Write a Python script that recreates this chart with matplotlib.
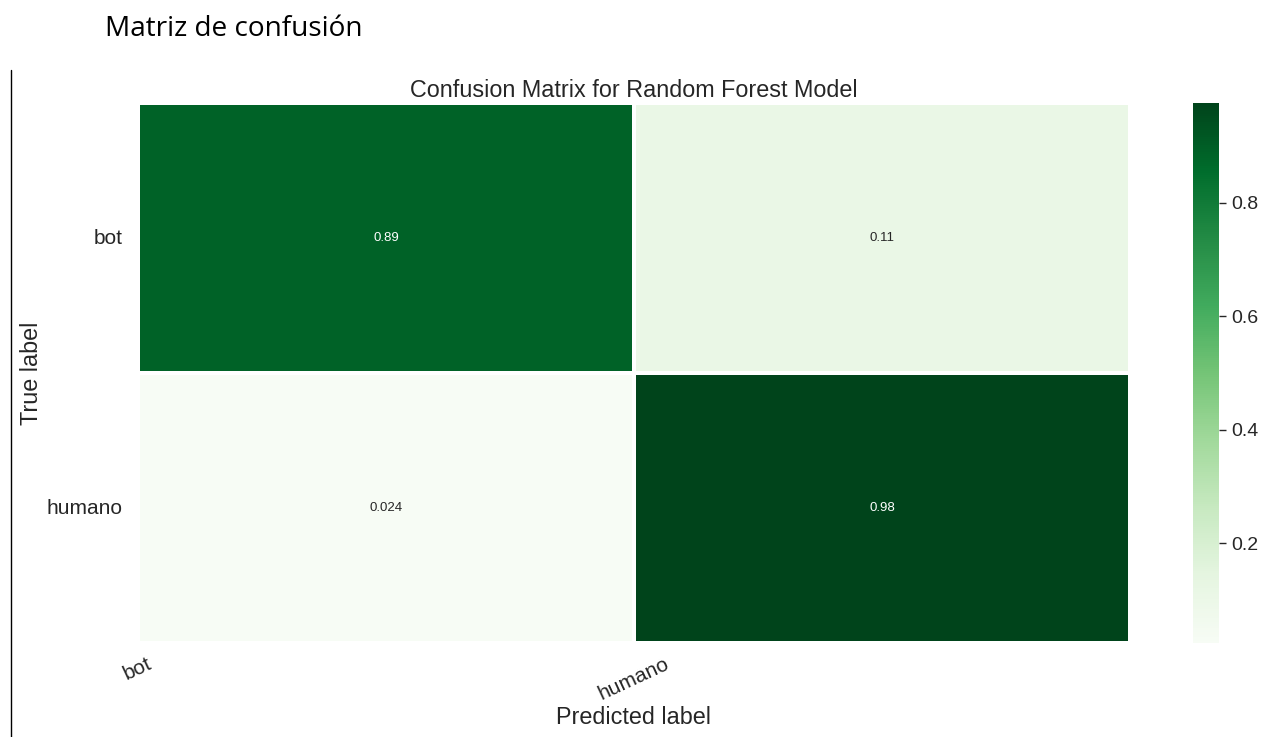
import numpy as np
import matplotlib
matplotlib.use('Agg')
import matplotlib.pyplot as plt
import seaborn as sns
from matplotlib.lines import Line2D

# confusion matrix values (normalized by true label)
classes = ['bot', 'humano']
row_bot = [0.888, 0.112]
row_humano = [0.024, 0.976]
annot_text = [['0.89', '0.11'], ['0.024', '0.98']]

sns.set_style('white')
plt.rcParams['font.family'] = ['Liberation Sans', 'DejaVu Sans']

cm = np.array([row_bot, row_humano])

fig = plt.figure(figsize=(12.62, 7.37), dpi=100)
W, H = 1262.0, 737.0
ax = fig.add_axes([138 / W, (H - 643) / H, 992 / W, 540 / H])
cax = fig.add_axes([1193 / W, (H - 643) / H, 26 / W, 540 / H])

sns.heatmap(cm, ax=ax, cbar_ax=cax, cmap='Greens', annot=np.array(annot_text),
            fmt='', annot_kws={'fontsize': 9.5}, linewidths=1.5, linecolor='white')

ax.set_xticks(np.arange(len(classes)))
ax.set_xticklabels(classes, rotation=25, ha='center', fontsize=15)
ax.set_yticks(np.arange(len(classes)) + 0.5)
ax.set_yticklabels(classes, rotation=0, fontsize=15)
ax.tick_params(axis='x', length=0, pad=8)
ax.tick_params(axis='y', length=0, pad=11)
ax.set_title('Confusion Matrix for Random Forest Model', fontsize=16.8, pad=4)
ax.set_xlabel('Predicted label', fontsize=16.8, labelpad=2)
ax.set_ylabel('True label', fontsize=16.8)
ax.yaxis.set_label_coords(-0.096, 0.5)

cax.tick_params(labelsize=14, length=5, width=1, direction='out', right=True)
cax.set_yticks([0.2, 0.4, 0.6, 0.8])
for s in cax.spines.values():
    s.set_visible(False)

fig.text(105 / W, 1 - 29 / H, 'Matriz de confusión', fontsize=20.2, color='black',
         family=['Open Sans', 'DejaVu Sans'], va='center', ha='left')
fig.add_artist(Line2D([11 / W, 11 / W], [0, 1 - 70 / H], color='black', lw=1))

fig.savefig('out.png', dpi=100)
